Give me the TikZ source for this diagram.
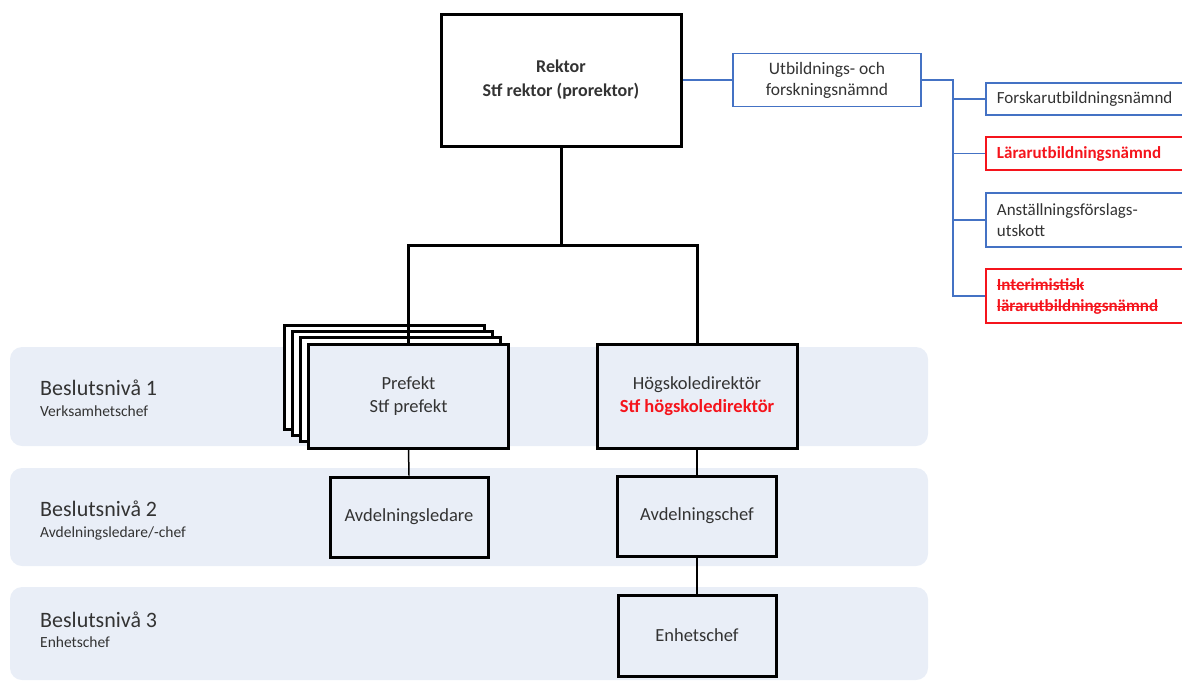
\documentclass[tikz,border=0pt]{standalone}
\usepackage{fontspec}
\setmainfont{Carlito}
\newcommand\mystrk[1]{\leavevmode\setbox0\hbox{#1}\rlap{\rule[0.26em]{\wd0}{1.1pt}}\box0}
\definecolor{txt}{HTML}{333333}
\definecolor{bl}{HTML}{4472C4}
\definecolor{rd}{HTML}{F5141C}
\definecolor{band}{HTML}{E9EEF7}
\tikzset{
  blk/.style={draw=black, line width=3pt, text=txt, align=center, font=\fontsize{18.5}{22.5}\selectfont},
  blu/.style={draw=bl, line width=1.8pt, fill=white, text=txt, font=\fontsize{17}{21}\selectfont},
  rbox/.style={blu, minimum width=210pt, text width=188pt, align=left, inner xsep=11pt, anchor=west},
  redbox/.style={rbox, draw=rd, text=rd, font=\fontsize{17}{21}\selectfont\bfseries},
  bandbox/.style={fill=band, draw=none, rounded corners=12pt},
  thickln/.style={line width=3pt, black},
  thinln/.style={line width=1.5pt, black},
  bline/.style={line width=1.8pt, bl},
  lvl/.style={anchor=west, text=txt, align=left, inner sep=0pt}
}
\begin{document}
\begin{tikzpicture}[x=1pt,y=-1pt]
\useasboundingbox (0,0) rectangle (1182,681);
% bands
\fill[bandbox] (10,347) rectangle (928,446);
\fill[bandbox] (10,468) rectangle (928,566);
\fill[bandbox] (10,587) rectangle (928,680);
\node[lvl, font=\fontsize{22}{26}\selectfont] (l1) at (40,388) {Beslutsnivå 1};
\node[lvl, font=\fontsize{15.5}{18}\selectfont] (l1s) at (40,411) {Verksamhetschef};
\node[lvl, font=\fontsize{22}{26}\selectfont] (l2) at (40,509) {Beslutsnivå 2};
\node[lvl, font=\fontsize{15.5}{18}\selectfont] (l2s) at (40,533) {Avdelningsledare/-chef};
\node[lvl, font=\fontsize{22}{26}\selectfont] (l3) at (40,620) {Beslutsnivå 3};
\node[lvl, font=\fontsize{15.5}{18}\selectfont] (l3s) at (40,642) {Enhetschef};
% top
\node[blk, minimum width=240pt, minimum height=132pt, font=\fontsize{18}{24}\selectfont\bfseries, fill=white] (rektor) at (561,80) {Rektor\\Stf rektor (prorektor)};
\node[blu, minimum width=188pt, minimum height=53pt, align=center, font=\fontsize{17.5}{21}\selectfont] (utb) at (827,80) {Utbildnings- och\\forskningsnämnd};
\node[rbox, minimum height=32pt] (forsk) at (985,99) {Forskarutbildningsnämnd};
\node[redbox, minimum height=33pt] (larar) at (985,153.5) {Lärarutbildningsnämnd};
\node[rbox, minimum height=54pt] (anst) at (985,220) {Anställningsförslags-\\utskott};
\node[redbox, minimum height=54pt] (interim) at (985,296) {\mystrk{Interimistisk}\\\mystrk{lärarutbildningsnämnd}};
\draw[bline] (rektor.east) -- (utb.west);
\draw[bline] (utb.east) -- (953,80) coordinate (bj) -- (953,296) -- (interim.west);
\draw[bline] (bj |- forsk.west) -- (forsk.west);
\draw[bline] (bj |- larar.west) -- (larar.west);
\draw[bline] (bj |- anst.west) -- (anst.west);
% prefekt stack
\node[blk, fill=white, minimum width=200pt, minimum height=104pt] (p1) at (384,377.5) {};
\node[blk, fill=white, minimum width=200pt, minimum height=104pt] (p2) at (392,383.5) {};
\node[blk, fill=white, minimum width=200pt, minimum height=104pt] (p3) at (400,389.5) {};
\node[blk, fill=band, minimum width=200pt, minimum height=104pt] (pref) at (408.5,396) {Prefekt\\Stf prefekt};
\node[blk, fill=band, minimum width=200pt, minimum height=104pt] (hog) at (697,396) {Högskoledirektör\\\textcolor{rd}{\bfseries Stf högskoledirektör}};
\node[blk, minimum width=158pt, minimum height=80pt] (avdl) at (409,517) {Avdelningsledare};
\node[blk, minimum width=159pt, minimum height=80pt] (avdc) at (697,516) {Avdelningschef};
\node[blk, minimum width=158pt, minimum height=81pt] (enh) at (697,635.5) {Enhetschef};
% connectors
\draw[thickln] (rektor.south) -- (561,245) coordinate (j);
\draw[thickln] (j) -| (pref.north);
\draw[thickln] (j) -| (hog.north);
\draw[thinln] (pref.south) -- (avdl.north);
\draw[thinln] (hog.south) -- (avdc.north);
\draw[thinln] (avdc.south) -- (enh.north);
\end{tikzpicture}
\end{document}
